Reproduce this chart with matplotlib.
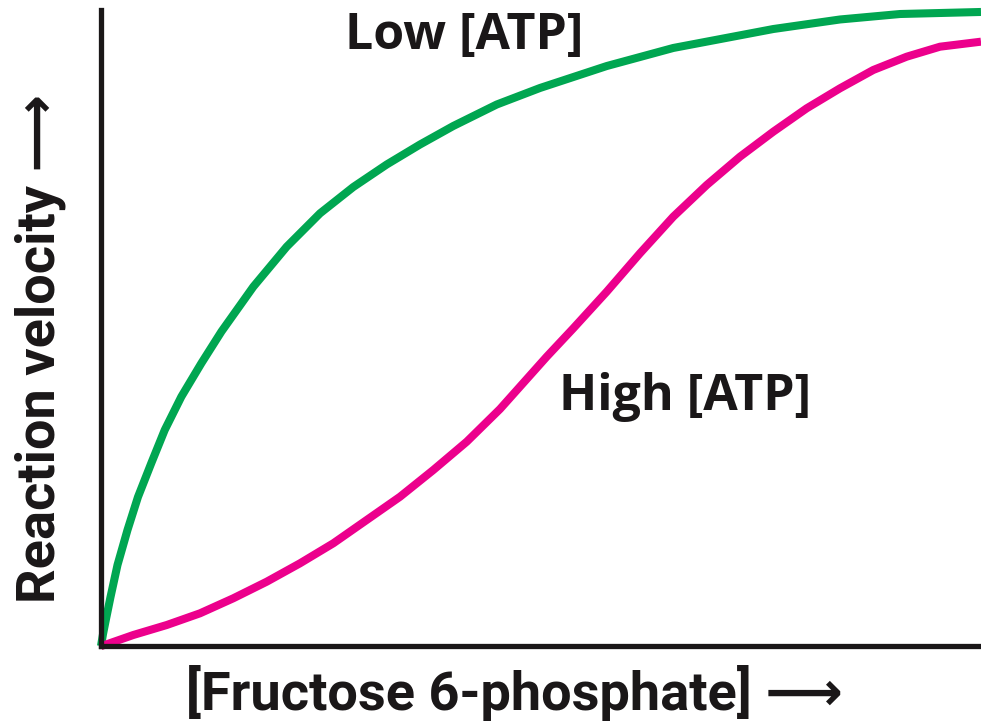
import matplotlib
matplotlib.use("Agg")
import matplotlib.pyplot as plt

# values (x: substrate, y: velocity, both 0-100)
low_atp_x = [0, 0.23, 0.57, 1.08, 1.875, 3.01, 4.20, 5.72, 7.24, 9.13, 11.40,
             13.69, 17.31, 21.10, 24.89, 28.67, 32.47, 36.25, 40.03, 44.97,
             49.89, 57.47, 65.03, 76.40, 83.98, 90.80, 100]
low_atp_y = [0, 1.89, 4.25, 7.70, 12.74, 18.24, 23.43, 28.77, 33.96, 39.20, 44.45,
             49.45, 56.49, 62.78, 68.03, 72.17, 75.71, 78.85, 81.76, 85.14,
             87.74, 91.19, 94.03, 97.01, 98.51, 99.37, 99.69]

high_atp_x = [0, 0.65, 3.67, 7.47, 11.25, 15.03, 18.83, 22.61, 26.40, 30.19,
              33.98, 37.76, 41.56, 45.34, 50.65, 53.67, 57.47, 61.25, 65.03,
              68.83, 72.61, 76.40, 80.19, 83.98, 87.76, 91.56, 95.34, 100]
high_atp_y = [0, 0.27, 1.73, 3.30, 5.14, 7.50, 10.11, 13.00, 16.15, 19.81,
              23.47, 27.67, 32.12, 37.26, 45.49, 49.95, 55.71, 61.75, 67.50,
              72.48, 76.93, 80.87, 84.54, 87.69, 90.57, 92.66, 94.23, 95.02]

green = "#00a651"
pink = "#ec008c"
ink = "#1a1718"
label_fonts = ["Open Sans", "DejaVu Sans"]
axis_fonts = ["Roboto", "DejaVu Sans"]

fig = plt.figure(figsize=(9.81, 7.23), dpi=100)
ax = fig.add_axes([101 / 981, 77 / 723, 880 / 981, 636 / 723])

ax.plot(low_atp_x, low_atp_y, color=green, lw=5.8, solid_capstyle="butt",
        solid_joinstyle="round", clip_on=False)
ax.plot(high_atp_x, high_atp_y, color=pink, lw=5.8, solid_capstyle="butt",
        solid_joinstyle="round", clip_on=False)

ax.set_xlim(0, 100)
ax.set_ylim(0, 100)
for side in ["top", "right"]:
    ax.spines[side].set_visible(False)
for side in ["left", "bottom"]:
    ax.spines[side].set_linewidth(3.8)
    ax.spines[side].set_color(ink)
    ax.spines[side].set_capstyle("projecting")
ax.set_xticks([])
ax.set_yticks([])

ax.text(27.7, 93.9, "Low [ATP]", family=label_fonts, fontweight="bold",
        fontsize=36, color=ink, ha="left", va="baseline")
ax.text(52.0, 37.1, "High [ATP]", family=label_fonts, fontweight="bold",
        fontsize=36, color=ink, ha="left", va="baseline")

fig.text(514 / 981, 1 - 710 / 723, "[Fructose 6-phosphate] \u27f6",
         family=axis_fonts, fontweight="bold", fontsize=39, color=ink,
         ha="center", va="baseline")
fig.text(55 / 981, 1 - 348 / 723, "Reaction velocity \u27f6",
         family=axis_fonts, fontweight="bold", fontsize=39, color=ink,
         ha="center", va="baseline", rotation=90, rotation_mode="anchor")

fig.savefig("out.png", dpi=100, facecolor="white")
